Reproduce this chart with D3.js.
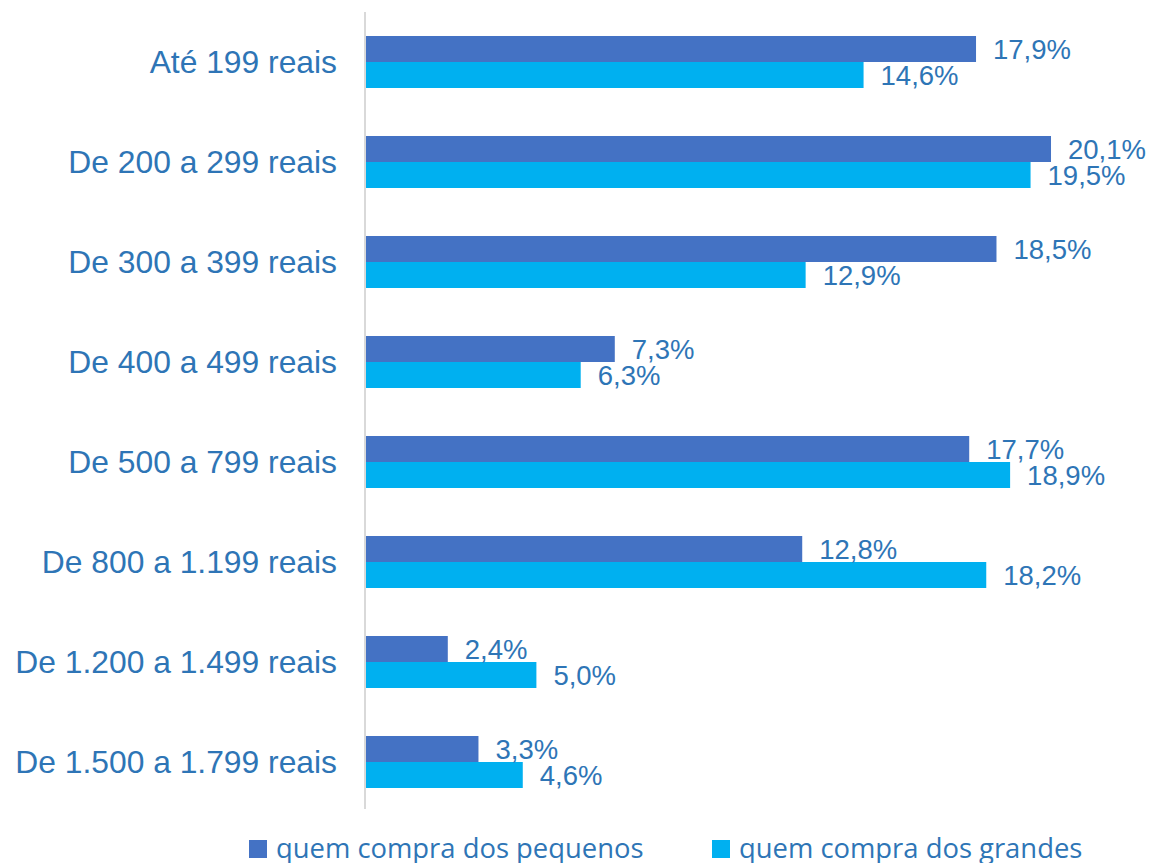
<!DOCTYPE html>
<html>
<head>
<meta charset="utf-8">
<script src="https://cdn.jsdelivr.net/npm/d3@7"></script>
<style>
  body { margin: 0; background: #fff; }
</style>
</head>
<body>
<div id="chart"></div>
<script>
// data
var categories = ["Até 199 reais", "De 200 a 299 reais", "De 300 a 399 reais", "De 400 a 499 reais",
  "De 500 a 799 reais", "De 800 a 1.199 reais", "De 1.200 a 1.499 reais", "De 1.500 a 1.799 reais"];
var seriesNames = ["quem compra dos pequenos", "quem compra dos grandes"];
var pequenos = [17.9, 20.1, 18.5, 7.3, 17.7, 12.8, 2.4, 3.3];
var grandes = [14.6, 19.5, 12.9, 6.3, 18.9, 18.2, 5.0, 4.6];
var colors = ["#4472C4", "#00B0F0"];

var svgWidth = 1153, svgHeight = 863;
var textColor = "#2E75B6";

var svg = d3.select("#chart").append("svg")
  .attr("width", svgWidth)
  .attr("height", svgHeight);

var x = d3.scaleLinear().domain([0, 25]).range([366, 366 + 34.08 * 25]);
var y = d3.scaleBand().domain(categories).range([12, 812]).paddingInner(0.48).paddingOuter(0.24);
var ySub = d3.scaleBand().domain([0, 1]).range([0, y.bandwidth()]);

var rows = categories.map(function(c, i) {
  return { cat: c, vals: [pequenos[i], grandes[i]] };
});

// bars
var groups = svg.selectAll(".grp")
  .data(rows)
  .enter().append("g")
  .attr("class", "grp")
  .attr("transform", function(d) { return "translate(0," + y(d.cat) + ")"; });

groups.selectAll("rect")
  .data(function(d) { return d.vals; })
  .enter().append("rect")
  .attr("x", x(0))
  .attr("y", function(d, i) { return ySub(i); })
  .attr("width", function(d) { return x(d) - x(0); })
  .attr("height", ySub.bandwidth())
  .attr("fill", function(d, i) { return colors[i]; });

// value labels
groups.selectAll("text")
  .data(function(d) { return d.vals; })
  .enter().append("text")
  .attr("x", function(d) { return x(d) + 17; })
  .attr("y", function(d, i) { return ySub(i) + ySub.bandwidth() / 2; })
  .attr("dy", "0.36em")
  .attr("font-family", "'Liberation Sans', Arial, sans-serif")
  .attr("font-size", "27.5px")
  .attr("fill", textColor)
  .text(function(d) { return d.toFixed(1).replace(".", ",") + "%"; });

// category axis
svg.append("line")
  .attr("x1", x(0) - 1).attr("x2", x(0) - 1)
  .attr("y1", 12).attr("y2", 809)
  .attr("stroke", "#D9D9D9")
  .attr("stroke-width", 2);

svg.selectAll(".cat")
  .data(categories)
  .enter().append("text")
  .attr("class", "cat")
  .attr("x", 337)
  .attr("y", function(d) { return y(d) + y.bandwidth() / 2; })
  .attr("dy", "0.36em")
  .attr("text-anchor", "end")
  .attr("font-family", "'Liberation Sans', Arial, sans-serif")
  .attr("font-size", "31.8px")
  .attr("fill", textColor)
  .text(function(d) { return d; });

// legend
var legendX = [249, 712];
var legend = svg.selectAll(".leg")
  .data(seriesNames)
  .enter().append("g")
  .attr("class", "leg")
  .attr("transform", function(d, i) { return "translate(" + legendX[i] + ",840)"; });

legend.append("rect")
  .attr("width", 18).attr("height", 18)
  .attr("fill", function(d, i) { return colors[i]; });

legend.append("text")
  .attr("x", 27)
  .attr("y", 18)
  .attr("font-family", "'Open Sans', sans-serif")
  .attr("font-size", "27.4px")
  .attr("fill", textColor)
  .text(function(d) { return d; });
</script>
</body>
</html>
